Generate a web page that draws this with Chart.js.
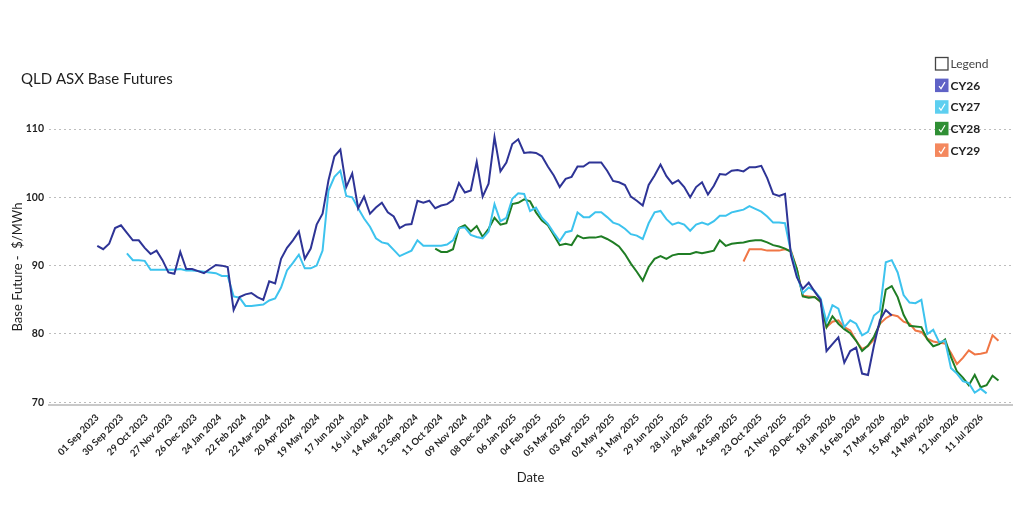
<!DOCTYPE html>
<html>
<head>
<meta charset="utf-8">
<script src="https://cdn.jsdelivr.net/npm/chart.js@4.4.1/dist/chart.umd.min.js"></script>
<style>
    body { margin: 0; background: #fff; }
    #wrap { width: 1024px; height: 508px; position: relative; }
</style>
</head>
<body>
<div id="wrap"><canvas id="futuresChart"></canvas></div>
<script>
// QLD ASX Base Futures - weekly closes

const xTickLabels = [
    '01 Sep 2023', '30 Sep 2023', '29 Oct 2023', '27 Nov 2023', '26 Dec 2023', '24 Jan 2024',
    '22 Feb 2024', '22 Mar 2024', '20 Apr 2024', '19 May 2024', '17 Jun 2024', '16 Jul 2024',
    '14 Aug 2024', '12 Sep 2024', '11 Oct 2024', '09 Nov 2024', '08 Dec 2024', '06 Jan 2025',
    '04 Feb 2025', '05 Mar 2025', '03 Apr 2025', '02 May 2025', '31 May 2025', '29 Jun 2025',
    '28 Jul 2025', '26 Aug 2025', '24 Sep 2025', '23 Oct 2025', '21 Nov 2025', '20 Dec 2025',
    '18 Jan 2026', '16 Feb 2026', '17 Mar 2026', '15 Apr 2026', '14 May 2026', '12 Jun 2026',
    '11 Jul 2026'
];
const yTicks = [70, 80, 90, 100, 110];

const seriesNames = ['CY26', 'CY27', 'CY28', 'CY29'];
// first week (weeks after 01 Sep 2023) each contract appears
const startWeeks = [0, 5, 57, 109];

const cy26 = [
    92.9, 92.4, 93.2, 95.5, 95.9, 94.8, 93.7, 93.7, 92.6, 91.7,
    92.2, 90.8, 89.0, 88.8, 92.0, 89.5, 89.5, 89.2, 88.9, 89.5,
    90.1, 90.0, 89.8, 83.5, 85.4, 85.8, 86.0, 85.4, 85.0, 87.7,
    87.4, 91.0, 92.6, 93.7, 95.0, 91.0, 92.5, 96.0, 97.6, 102.5,
    106.0, 107.0, 101.5, 103.5, 98.4, 100.1, 97.6, 98.5, 99.2, 97.8,
    97.2, 95.5, 96.0, 96.1, 99.5, 99.2, 99.5, 98.4, 98.8, 99.0,
    99.6, 102.1, 100.7, 101.0, 105.2, 100.1, 102.0, 108.8, 103.8, 105.1,
    107.8, 108.5, 106.5, 106.6, 106.5, 106.0, 104.5, 103.2, 101.5, 102.7,
    103.0, 104.5, 104.5, 105.1, 105.1, 105.1, 103.9, 102.4, 102.2, 101.8,
    100.1, 99.5, 98.8, 101.8, 103.2, 104.8, 103.1, 102.0, 102.5, 101.5,
    100.0, 101.5, 102.2, 100.4, 101.7, 103.4, 103.3, 103.9, 104.0, 103.8,
    104.4, 104.4, 104.6, 102.8, 100.5, 100.2, 100.5, 91.5, 88.3, 86.6,
    87.5, 86.2, 85.0, 77.5, 78.5, 79.5, 75.8, 77.5, 78.0, 74.2,
    74.0, 78.3, 82.0, 83.5, 82.7
];
const cy27 = [
    91.8, 90.8, 90.8, 90.7, 89.4, 89.4, 89.4, 89.4, 89.4, 89.5,
    89.3, 89.3, 89.2, 89.1, 89.0, 88.9, 88.5, 88.5, 85.5, 85.3,
    84.1, 84.1, 84.2, 84.3, 84.9, 85.2, 86.8, 89.3, 90.4, 91.6,
    89.6, 89.6, 90.0, 92.2, 101.0, 103.0, 103.9, 100.2, 100.0, 98.4,
    96.9, 95.7, 94.0, 93.4, 93.2, 92.3, 91.4, 91.8, 92.2, 93.7,
    92.9, 92.9, 92.9, 92.9, 93.1, 93.7, 95.5, 95.6, 94.5, 94.2,
    94.0, 95.0, 99.0, 96.5, 97.0, 99.8, 100.6, 100.5, 98.0, 98.5,
    97.0, 96.1, 94.8, 93.6, 94.9, 95.1, 97.8, 97.1, 97.1, 97.8,
    97.8, 97.1, 96.3, 96.0, 95.4, 94.6, 94.4, 93.9, 96.2, 97.8,
    98.0, 96.8, 96.0, 96.3, 96.0, 95.1, 96.0, 96.3, 96.0, 96.5,
    97.3, 97.3, 97.8, 98.0, 98.2, 98.7, 98.3, 97.9, 97.2, 96.3,
    96.3, 96.2, 92.0, 88.6, 86.0, 86.8, 86.3, 85.2, 81.8, 84.2,
    83.7, 81.0, 82.0, 81.5, 79.8, 80.3, 82.7, 83.4, 90.5, 90.8,
    89.0, 85.7, 84.6, 84.5, 85.0, 80.0, 80.6, 78.8, 79.0, 75.0,
    74.2, 73.1, 72.8, 71.4, 72.0, 71.3
];
const cy28 = [
    92.5, 92.0, 92.0, 92.4, 95.5, 95.9, 95.0, 95.8, 94.2, 95.4,
    97.0, 96.0, 96.2, 99.0, 99.2, 99.7, 99.4, 97.8, 96.6, 95.9,
    94.5, 93.0, 93.2, 93.0, 94.4, 94.0, 94.1, 94.1, 94.3, 93.9,
    93.4, 92.8, 91.7, 90.3, 89.1, 87.8, 89.8, 91.0, 91.4, 91.0,
    91.5, 91.7, 91.7, 91.7, 92.0, 91.8, 92.0, 92.2, 93.7, 92.9,
    93.2, 93.3, 93.4, 93.6, 93.7, 93.7, 93.4, 93.0, 92.8, 92.5,
    92.0, 89.5, 85.5, 85.3, 85.4, 84.7, 81.0, 82.6, 81.5, 80.7,
    80.1, 79.0, 77.5, 78.3, 79.6, 81.5, 86.5, 87.0, 85.4, 82.8,
    81.2, 81.1, 81.0, 79.2, 78.2, 78.5, 79.2, 76.6, 74.5, 73.6,
    72.5, 74.0, 72.2, 72.5, 73.9, 73.2
];
const cy29 = [
    90.6, 92.4, 92.4, 92.4, 92.2, 92.2, 92.2, 92.4, 92.2, 89.5,
    85.6, 85.5, 85.4, 84.7, 81.0, 81.8, 82.0, 81.0, 80.5, 79.0,
    77.8, 78.2, 79.2, 81.5, 82.3, 82.8, 82.6, 81.8, 81.5, 80.5,
    80.3, 79.3, 78.9, 78.7, 78.6, 77.2, 75.6, 76.5, 77.6, 77.0,
    77.1, 77.3, 79.8, 79.0
];

const seriesValues = [cy26, cy27, cy28, cy29];
const lineColors = ['#2e3496', '#3dc3ee', '#1f7d24', '#f07645'];
const boxColors = ['#5f62c6', '#5dcff0', '#2f8f34', '#f4885e'];

const FONT = 'Lato, "Open Sans", sans-serif';

document.addEventListener('DOMContentLoaded', () => {
    initFuturesChart();
});

function buildPoints(values, startWeek) {
    return values.map((v, k) => ({ x: (startWeek + k) * 7, y: v }));
}

// title drawn at the top-left corner, outside the chart area
const titlePlugin = {
    id: 'cornerTitle',
    afterDraw(chart) {
        const ctx = chart.ctx;
        ctx.save();
        ctx.font = '15px ' + FONT;
        ctx.fillStyle = '#1e1e1e';
        ctx.textBaseline = 'alphabetic';
        ctx.textAlign = 'left';
        ctx.fillText('QLD ASX Base Futures', 21, 84);
        ctx.restore();
    }
};

// checkbox style legend floating over the top right of the plot
const checkLegendPlugin = {
    id: 'checkLegend',
    afterDraw(chart) {
        const ctx = chart.ctx;
        const x = 935;
        let y = 57;
        const size = 13.5;
        const gap = 21.6;

        ctx.save();
        ctx.textBaseline = 'middle';
        ctx.textAlign = 'left';

        ctx.strokeStyle = '#444';
        ctx.lineWidth = 1.3;
        ctx.strokeRect(x + 0.5, y + 0.5, size - 1, size - 1);
        ctx.font = '12px ' + FONT;
        ctx.fillStyle = '#444';
        ctx.fillText('Legend', x + size + 2, y + size / 2 + 0.5);

        chart.data.datasets.forEach((ds) => {
            y += gap;
            ctx.fillStyle = ds.legendColor;
            ctx.fillRect(x, y, size, size);
            ctx.strokeStyle = '#fff';
            ctx.lineWidth = 1.2;
            ctx.beginPath();
            ctx.moveTo(x + 4, y + 7.5);
            ctx.lineTo(x + 6, y + 10);
            ctx.lineTo(x + 10, y + 3.5);
            ctx.stroke();
            ctx.font = 'bold 12px ' + FONT;
            ctx.fillStyle = '#222';
            ctx.fillText(ds.label, x + size + 2, y + size / 2 + 0.5);
        });
        ctx.restore();
    }
};

function initFuturesChart() {
    const ctx = document.getElementById('futuresChart').getContext('2d');

    const datasets = seriesNames.map((name, i) => ({
        label: name,
        data: buildPoints(seriesValues[i], startWeeks[i]),
        borderColor: lineColors[i],
        backgroundColor: lineColors[i],
        legendColor: boxColors[i],
        borderWidth: 2,
        pointRadius: 0,
        tension: 0,
        fill: false
    }));

    new Chart(ctx, {
        type: 'line',
        data: { datasets: datasets },
        options: {
            responsive: true,
            maintainAspectRatio: false,
            animation: false,
            layout: {
                padding: { left: 8, right: 12, top: 129, bottom: 10 }
            },
            plugins: {
                legend: { display: false },
                title: { display: false },
                tooltip: { enabled: false }
            },
            scales: {
                x: {
                    type: 'linear',
                    min: -57,
                    max: 1080,
                    afterBuildTicks: (scale) => {
                        scale.ticks = xTickLabels.map((_, i) => ({ value: i * 29 }));
                    },
                    afterFit: (scale) => {
                        scale.height = 93;
                    },
                    grid: { display: false, drawTicks: false },
                    border: { display: true, color: '#c9c9c9', width: 2 },
                    ticks: {
                        autoSkip: false,
                        maxRotation: 45,
                        minRotation: 45,
                        padding: 7,
                        color: '#1f1f1f',
                        font: { family: FONT, size: 9.5, weight: 'bold' },
                        callback: (value) => xTickLabels[Math.round(value / 29)]
                    },
                    title: {
                        display: true,
                        text: 'Date',
                        color: '#1f1f1f',
                        font: { family: FONT, size: 13 },
                        padding: { top: 0, bottom: 12 }
                    }
                },
                y: {
                    min: 69.6,
                    max: 110,
                    afterBuildTicks: (scale) => {
                        scale.ticks = yTicks.map((v) => ({ value: v }));
                    },
                    afterFit: (scale) => {
                        scale.width = 41;
                    },
                    grid: {
                        color: '#bdbdbd',
                        lineWidth: 1,
                        drawTicks: false
                    },
                    border: { display: false, dash: [2, 3] },
                    ticks: {
                        padding: 5,
                        color: '#1f1f1f',
                        font: { family: FONT, size: 10.5, weight: 'bold' }
                    },
                    title: {
                        display: true,
                        text: 'Base Future -  $/MWh',
                        color: '#1f1f1f',
                        font: { family: FONT, size: 13 },
                        padding: { top: 2, bottom: 0 }
                    }
                }
            }
        },
        plugins: [titlePlugin, checkLegendPlugin]
    });
}
</script>
</body>
</html>
